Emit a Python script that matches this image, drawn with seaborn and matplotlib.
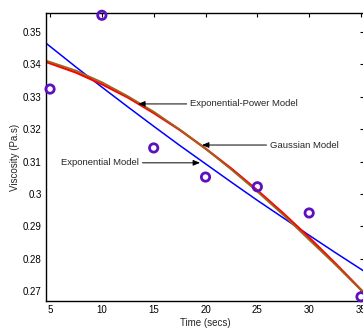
import matplotlib
matplotlib.use("Agg")
import matplotlib.pyplot as plt
import seaborn as sns
import pandas as pd

# Measured viscosity
time_s = [5, 10, 15, 20, 25, 30, 35]
viscosity = [0.3324, 0.3552, 0.3142, 0.3052, 0.3022, 0.2941, 0.2682]

# Fitted model curves evaluated on a time grid
t_grid = [4.6, 7.5, 10, 12.5, 15, 17.5, 20, 22.5, 25, 27.5, 30, 32.5, 35.3]
exp_model = [0.3466, 0.3392, 0.3330, 0.3269, 0.3209, 0.3150, 0.3093,
             0.3036, 0.2980, 0.2926, 0.2872, 0.2819, 0.2761]
gauss_model = [0.3408, 0.3375, 0.3339, 0.3298, 0.3250, 0.3198, 0.3140,
               0.3078, 0.3011, 0.2940, 0.2865, 0.2786, 0.2694]
exppow_model = [0.3412, 0.3381, 0.3345, 0.3302, 0.3254, 0.3199, 0.3140,
                0.3075, 0.3007, 0.2935, 0.2858, 0.2782, 0.2693]

x_ticks = [5, 10, 15, 20, 25, 30, 35]
y_ticks = [0.27, 0.28, 0.29, 0.30, 0.31, 0.32, 0.33, 0.34, 0.35]
y_tick_labels = ["0.27", "0.28", "0.29", "0.3", "0.31", "0.32", "0.33", "0.34", "0.35"]

sns.set_style("white")
plt.rcParams["font.family"] = ["Liberation Sans", "DejaVu Sans"]

fig = plt.figure(figsize=(3.63, 3.29), dpi=100)
ax = fig.add_axes([46 / 363, 1 - 301 / 329, 318 / 363, 288 / 329])

curves = pd.DataFrame({"t": t_grid, "exp": exp_model,
                       "gauss": gauss_model, "exppow": exppow_model})
sns.lineplot(data=curves, x="t", y="exp", ax=ax, color="#0000FF", lw=1.1)
sns.lineplot(data=curves, x="t", y="gauss", ax=ax, color="#FF0000", lw=1.6)
sns.lineplot(data=curves, x="t", y="exppow", ax=ax, color="#9C6420", lw=1.3)

pts = pd.DataFrame({"t": time_s, "v": viscosity})
sns.scatterplot(data=pts, x="t", y="v", ax=ax, marker="o", s=36,
                facecolor="none", edgecolor="#5E0FC0", linewidth=2.0,
                zorder=5, clip_on=False)

ax.set_xlim(4.61, 35.29)
ax.set_ylim(0.2669, 0.3559)
ax.set_xticks(x_ticks)
ax.set_yticks(y_ticks)
ax.set_yticklabels(y_tick_labels)
ax.tick_params(direction="in", length=3, width=0.8, labelsize=7,
               top=True, right=True, pad=3, colors="black")
for sp in ax.spines.values():
    sp.set_color("black")
    sp.set_linewidth(1.0)

ax.set_xlabel("Time (secs)", fontsize=7, labelpad=2)
ax.set_ylabel("Viscosity (Pa.s)", fontsize=7, labelpad=2)

arrow = dict(arrowstyle="-|>,head_length=0.6,head_width=0.25",
             color="black", lw=0.7, shrinkA=0, shrinkB=0)
ax.annotate("Exponential-Power Model", xy=(13.5, 0.3278), xytext=(18.5, 0.3278),
            fontsize=6.8, va="center", ha="left", arrowprops=arrow)
ax.annotate("Gaussian Model", xy=(19.66, 0.3151), xytext=(26.2, 0.3151),
            fontsize=6.8, va="center", ha="left", arrowprops=arrow)
ax.annotate("Exponential Model", xy=(19.47, 0.3096), xytext=(13.6, 0.3096),
            fontsize=6.8, va="center", ha="right", arrowprops=arrow)

fig.savefig("out.png", dpi=100)
